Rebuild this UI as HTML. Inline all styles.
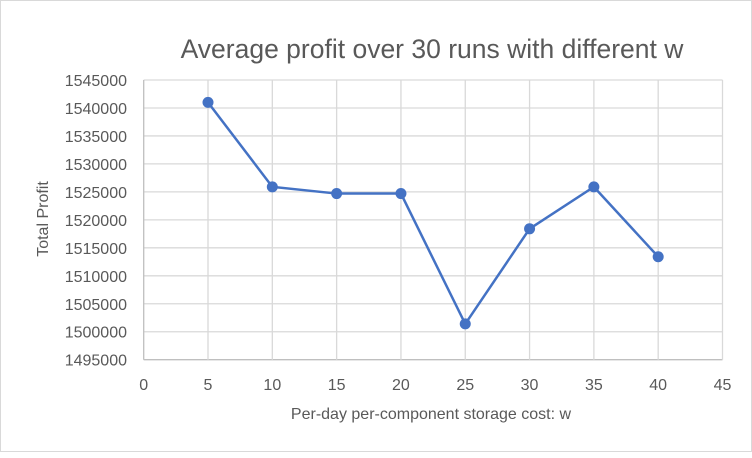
<!DOCTYPE html>
<html><head><meta charset="utf-8"><style>
body{margin:0;background:#fff;}
#c{position:relative;width:752px;height:452px;border:1px solid #d9d9d9;box-sizing:border-box;background:#fff;}
text{font-family:"Liberation Sans",sans-serif;fill:#595959;}
</style></head><body>
<div id="c">
<svg id="s" width="752" height="452">
<text x="431" y="57" text-anchor="middle" font-size="26.5">Average profit over 30 runs with different w</text>
<text x="47" y="218" text-anchor="middle" font-size="16" transform="rotate(-90 47 218)">Total Profit</text>
<text x="430" y="418" text-anchor="middle" font-size="16">Per-day per-component storage cost: w</text>
<g id="grid"></g><g id="ticks"></g><g id="series"></g>
</svg></div>
<script>
const xCats=[5,10,15,20,25,30,35,40];
const profits=[1541000,1525900,1524700,1524700,1501400,1518400,1525900,1513400];
const yTicks=[1495000,1500000,1505000,1510000,1515000,1520000,1525000,1530000,1535000,1540000,1545000];
const xTicks=[0,5,10,15,20,25,30,35,40,45];
const ns="http://www.w3.org/2000/svg";
const X=v=>142.7+(v/45)*(721.5-142.7);
const Y=v=>358.7-(v-1495000)/50000*(358.7-79);
function mk(t,a,p){const e=document.createElementNS(ns,t);for(const k in a)e.setAttribute(k,a[k]);document.getElementById(p).appendChild(e);return e;}
yTicks.forEach(v=>{
 const l=mk('line',{x1:X(0),x2:X(45),y1:Y(v),y2:Y(v),stroke:v===1495000?'#bfbfbf':'#d9d9d9','stroke-width':1.3},'grid');
 
 
 const t=mk('text',{x:126,y:Y(v)+6,'text-anchor':'end','font-size':16},'ticks');t.textContent=v;
 
 
});
xTicks.forEach(v=>{
 const l=mk('line',{x1:X(v),x2:X(v),y1:Y(1545000),y2:Y(1495000),stroke:v===0?'#bfbfbf':'#d9d9d9','stroke-width':1.3},'grid');
 
 
 const t=mk('text',{x:X(v),y:389,'text-anchor':'middle','font-size':16},'ticks');t.textContent=v;
 
 
});
const pts=xCats.map((x,i)=>X(x)+','+Y(profits[i])).join(' ');
const pl=mk('polyline',{points:pts,fill:'none',stroke:'#4472c4','stroke-width':2.5},'series');


xCats.forEach((x,i)=>{
 const c=mk('circle',{cx:X(x),cy:Y(profits[i]),r:5.5,fill:'#4472c4'},'series');
 
 
});
</script>
</body></html>
